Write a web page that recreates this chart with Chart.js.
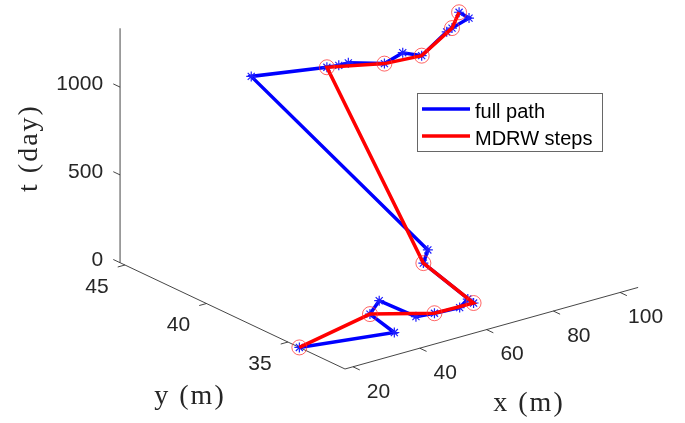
<!DOCTYPE html>
<html>
<head>
<meta charset="utf-8">
<script src="https://cdn.jsdelivr.net/npm/chart.js@4/dist/chart.umd.min.js"></script>
<style>
  html, body { margin: 0; padding: 0; background: #ffffff; }
  canvas { display: block; }
</style>
</head>
<body>
<canvas id="c" width="685" height="423"></canvas>
<script>
// Trajectory samples: position x, y (m) and time t (day)
const pathX = [17.6, 39.7, 40.7, 46.4, 45.2, 48.3, 53.9, 57.8, 56.6, 60.6, 63.9,
               56.4, 61.0, 62.6, 64.0, 67.0, 72.0, 72.3, 83.7, 84.8, 89.9, 87.9];
const pathY = [34.3, 33.0, 34.7, 35.3, 32.8, 32.3, 31.9, 32.2, 31.6, 35.5, 35.9,
               45.2, 41.5, 41.1, 40.8, 39.2, 39.1, 38.0, 38.8, 38.7, 38.7, 38.9];
const pathT = [0, 25, 50, 70, 95, 120, 140, 155, 165, 200, 240,
               860, 1050, 1070, 1090, 1140, 1180, 1210, 1250, 1270, 1300, 1335];
// Samples kept as MDRW steps (indices into the path)
const mdrwSteps = [0, 2, 5, 8, 9, 12, 15, 17, 19, 21];

const xTicks = [20, 40, 60, 80, 100];
const yTicks = [35, 40, 45];
const tTicks = [0, 500, 1000];

const xLim = [17.6, 105.4];
const yLim = [31.5, 45.3];
const tLim = [0, 1335];

// 3-D view (azimuth / elevation, degrees) and plot-box aspect
const view = { az: -37.5, el: 30 };
const boxAspect = [1, 1, 1.01];
// Window of the projected plane shown on the canvas
const viewport = { hMin: -0.9337, hMax: 0.9202, vMin: -0.2015, vMax: 1.3769 };

const AXIS_COLOR = '#262626';
const TICK_FONT = '21px "Liberation Sans", Arial, sans-serif';
const LABEL_FONT = '28px "Liberation Serif", "Times New Roman", serif';
const LEGEND_FONT = '20px "Liberation Sans", Arial, sans-serif';

// Orthographic projection of a data point onto the view plane
function project(x, y, t) {
  const az = view.az * Math.PI / 180, el = view.el * Math.PI / 180;
  const X = (x - xLim[0]) / (xLim[1] - xLim[0]) * boxAspect[0];
  const Y = (y - yLim[0]) / (yLim[1] - yLim[0]) * boxAspect[1];
  const Z = (t - tLim[0]) / (tLim[1] - tLim[0]) * boxAspect[2];
  return {
    x: Math.cos(az) * X + Math.sin(az) * Y,
    y: -Math.sin(el) * Math.sin(az) * X + Math.sin(el) * Math.cos(az) * Y + Math.cos(el) * Z
  };
}

const fullPath = pathX.map((x, i) => project(x, pathY[i], pathT[i]));
const stepPath = mdrwSteps.map(i => project(pathX[i], pathY[i], pathT[i]));

// Pixel position of a 3-D point through the chart's own scales
function toPixel(chart, x, y, t) {
  const p = project(x, y, t);
  return { x: chart.scales.x.getPixelForValue(p.x), y: chart.scales.y.getPixelForValue(p.y) };
}

function drawTick(ctx, a, b, len) {
  const dx = b.x - a.x, dy = b.y - a.y, d = Math.hypot(dx, dy);
  ctx.beginPath();
  ctx.moveTo(a.x, a.y);
  ctx.lineTo(a.x + dx / d * len, a.y + dy / d * len);
  ctx.stroke();
}

// Axis lines, tick marks, tick labels and axis titles of the 3-D box
const axes3d = {
  id: 'axes3d',
  beforeDatasetsDraw(chart) {
    const ctx = chart.ctx;
    const P = (x, y, t) => toPixel(chart, x, y, t);
    ctx.save();
    ctx.strokeStyle = 'rgba(38,38,38,0.85)';
    ctx.lineWidth = 1;

    const lines = [
      [P(xLim[0], yLim[0], tLim[0]), P(xLim[1], yLim[0], tLim[0])],
      [P(xLim[0], yLim[0], tLim[0]), P(xLim[0], yLim[1], tLim[0])],
      [P(xLim[0], yLim[1], tLim[0]), P(xLim[0], yLim[1], tLim[1])]
    ];
    lines.forEach(([a, b]) => {
      ctx.beginPath(); ctx.moveTo(a.x, a.y); ctx.lineTo(b.x, b.y); ctx.stroke();
    });

    const tickLen = 7.5;
    ctx.fillStyle = AXIS_COLOR;
    ctx.font = TICK_FONT;
    ctx.textBaseline = 'middle';

    // x ticks point toward decreasing y
    ctx.textAlign = 'center';
    xTicks.forEach(v => {
      const a = P(v, yLim[0], tLim[0]);
      drawTick(ctx, a, P(v, yLim[0] - 1, tLim[0]), tickLen);
      ctx.fillText(String(v), a.x + 25.5, a.y + 25);
    });
    // y ticks point toward decreasing x
    yTicks.forEach(v => {
      const a = P(xLim[0], v, tLim[0]);
      drawTick(ctx, a, P(xLim[0] - 5, v, tLim[0]), tickLen);
      ctx.fillText(String(v), a.x - 28, a.y + 22);
    });
    // t ticks point toward increasing y
    ctx.textAlign = 'right';
    tTicks.forEach(v => {
      const a = P(xLim[0], yLim[1], v);
      drawTick(ctx, a, P(xLim[0], yLim[1] + 1, v), tickLen);
      ctx.fillText(String(v), a.x - 17, a.y - 2.5);
    });

    // Axis titles
    ctx.font = LABEL_FONT;
    ctx.letterSpacing = '2px';
    ctx.textAlign = 'center';
    ctx.fillText('x (m)', 529, 404);
    ctx.fillText('y (m)', 190, 397);
    ctx.translate(30, 148);
    ctx.rotate(-Math.PI / 2);
    ctx.fillText('t (day)', 0, 0);
    ctx.restore();
  },
  afterDraw(chart) {
    const ctx = chart.ctx;
    const box = { x: 417.5, y: 93.5, w: 185, h: 58 };
    ctx.save();
    ctx.fillStyle = '#ffffff';
    ctx.fillRect(box.x, box.y, box.w, box.h);
    ctx.strokeStyle = 'rgba(38,38,38,0.7)';
    ctx.lineWidth = 1;
    ctx.strokeRect(box.x, box.y, box.w, box.h);
    const entries = [chart.data.datasets[1], chart.data.datasets[0]];
    ctx.font = LEGEND_FONT;
    ctx.textAlign = 'left';
    ctx.textBaseline = 'alphabetic';
    entries.forEach((ds, i) => {
      const ly = 109 + i * 27;
      ctx.strokeStyle = ds.borderColor;
      ctx.lineWidth = ds.borderWidth;
      ctx.beginPath(); ctx.moveTo(422, ly); ctx.lineTo(470, ly); ctx.stroke();
      ctx.fillStyle = '#000000';
      ctx.fillText(ds.label, 475, ly + 9);
    });
    ctx.restore();
  }
};

new Chart(document.getElementById('c'), {
  type: 'scatter',
  data: {
    datasets: [
      {
        label: 'MDRW steps',
        data: stepPath,
        showLine: true,
        tension: 0,
        borderColor: 'rgb(255,0,0)',
        borderWidth: 3.5,
        borderJoinStyle: 'miter',
        pointStyle: 'circle',
        pointRadius: 7.5,
        pointBackgroundColor: 'rgba(0,0,0,0)',
        pointBorderColor: 'rgba(255,50,50,0.75)',
        pointBorderWidth: 1,
        order: 1
      },
      {
        label: 'full path',
        data: fullPath,
        showLine: true,
        tension: 0,
        borderColor: 'rgb(0,0,255)',
        borderWidth: 3.5,
        borderJoinStyle: 'miter',
        pointStyle: 'star',
        pointRadius: 5,
        pointBackgroundColor: 'rgb(30,30,255)',
        pointBorderColor: 'rgb(30,30,255)',
        pointBorderWidth: 1.2,
        order: 2
      }
    ]
  },
  options: {
    responsive: false,
    animation: false,
    layout: { padding: 0, autoPadding: false },
    clip: false,
    scales: {
      x: { type: 'linear', display: false, min: viewport.hMin, max: viewport.hMax },
      y: { type: 'linear', display: false, min: viewport.vMin, max: viewport.vMax }
    },
    plugins: {
      legend: { display: false },
      tooltip: { enabled: false }
    }
  },
  plugins: [axes3d]
});
</script>
</body>
</html>
